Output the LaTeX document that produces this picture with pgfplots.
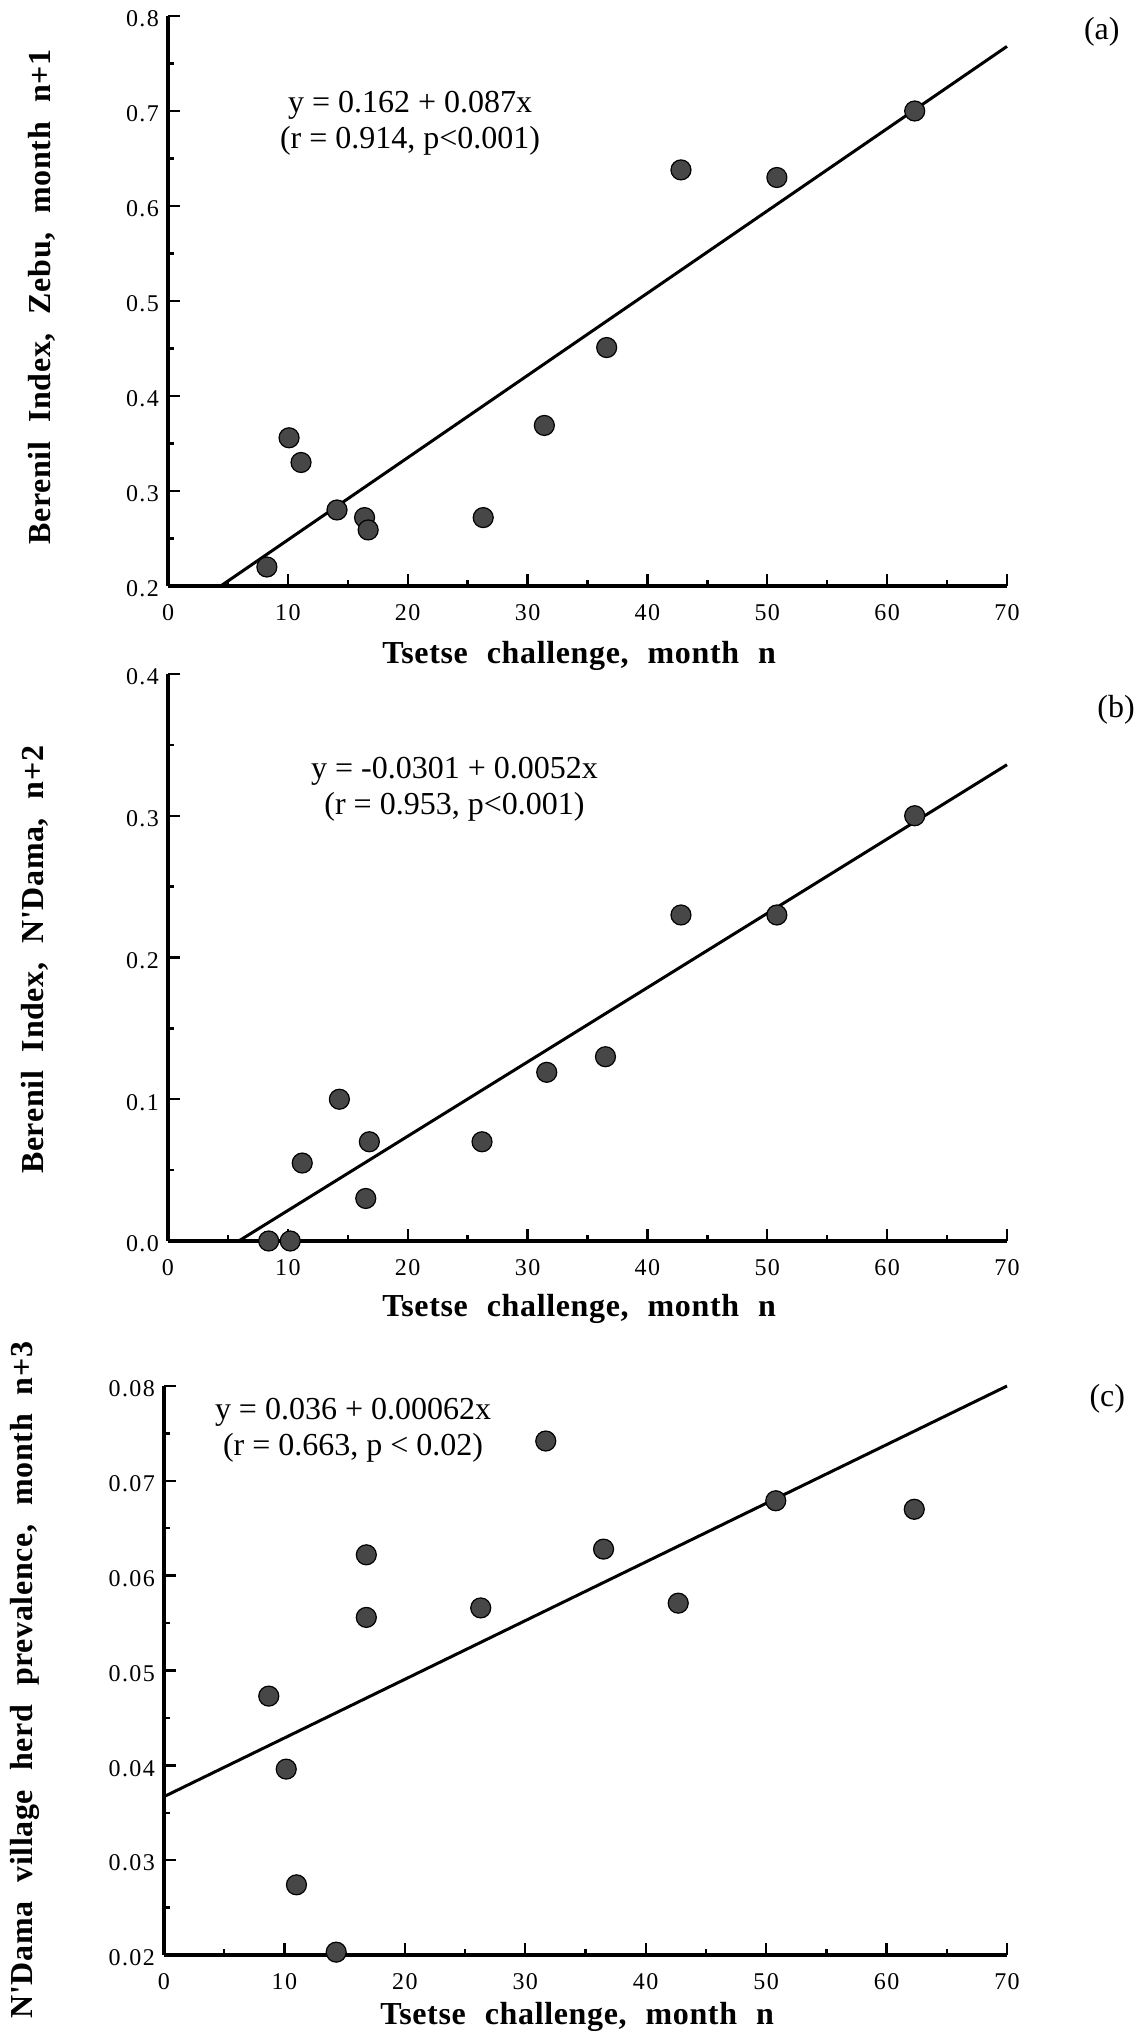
\documentclass[border=0pt]{standalone}
\usepackage{fontspec}
\setmainfont{Liberation Serif}
\newfontfamily\tickfont[LetterSpace=6]{Liberation Serif}
\newfontfamily\labfont[LetterSpace=2,WordSpace=2.2]{Liberation Serif}
\usepackage{pgfplots}
\pgfplotsset{compat=1.18}
\pgfplotsset{
  panel/.style={
    scale only axis,
    axis x line=bottom, axis y line=left,
    axis line style={-, line width=1.6pt},
    tick align=inside,
    major tick length=6pt, minor tick length=3pt,
    every tick/.style={black, line width=1.2pt},
    xmin=0, xmax=70, xtick={0,10,...,70}, minor x tick num=1,
    minor y tick num=1,
    scaled y ticks=false,
    clip=false,
    xticklabel style={font=\tickfont\fontsize{12}{14}\selectfont, yshift=-5.5pt},
    yticklabel style={font=\tickfont\fontsize{12}{14}\selectfont, xshift=-1pt, yshift=-1.5pt},
    /pgf/number format/assume math mode=true,
    label style={font=\labfont\bfseries\fontsize{16}{19}\selectfont},
    xlabel={Tsetse challenge, month n},
  },
  dots/.style={only marks, mark=*, mark size=5pt, mark options={fill=black!72, draw=black, line width=0.6pt}},
  fit/.style={black, line width=1.5pt, no marks},
}
\begin{document}
\begin{tikzpicture}
\useasboundingbox (0,0) rectangle (568pt,1015.5pt);
% (a)
\begin{axis}[panel,
  at={(84pt,722.5pt)}, anchor=south west,
  width=419.5pt, height=285pt,
  ymin=0.2, ymax=0.8, ytick={0.2,0.3,...,0.8},
  yticklabels={0.2,0.3,0.4,0.5,0.6,0.7,0.8},
  xlabel style={at={(axis description cs:0.49,-0.1368)}, anchor=base},
  ylabel={Berenil Index, Zebu, month n+1},
  ylabel style={at={(axis description cs:-0.1502,0.507)}, anchor=center},
]
\addplot[fit] coordinates {(4.4,0.2) (70,0.768)};
\addplot[dots] coordinates {(8.25,0.220) (10.1,0.356) (11.1,0.330) (14.1,0.280) (16.4,0.272) (16.7,0.259) (26.3,0.272) (31.4,0.369) (36.6,0.451) (42.8,0.638) (50.8,0.630) (62.3,0.700)};
\node[align=center, font=\fontsize{16}{18}\selectfont] at (axis cs:20.2,0.687) {y = 0.162 + 0.087x\\(r = 0.914, p<0.001)};
\node[font=\fontsize{16}{18}\selectfont] at (axis description cs:1.113,0.972) {(a)};
\end{axis}
% (b)
\begin{axis}[panel,
  at={(84pt,395pt)}, anchor=south west,
  width=419.5pt, height=283.5pt,
  ymin=0, ymax=0.4, ytick={0,0.1,...,0.4},
  yticklabels={0.0,0.1,0.2,0.3,0.4},
  xlabel style={at={(axis description cs:0.49,-0.1323)}, anchor=base},
  ylabel={Berenil Index, N'Dama, n+2},
  ylabel style={at={(axis description cs:-0.1585,0.496)}, anchor=center},
]
\addplot[fit] coordinates {(5.9,0) (70,0.336)};
\addplot[dots] coordinates {(8.4,0) (10.2,0) (11.2,0.055) (14.3,0.100) (16.5,0.030) (16.8,0.070) (26.2,0.070) (31.6,0.119) (36.5,0.130) (42.8,0.230) (50.8,0.230) (62.3,0.300)};
\node[align=center, font=\fontsize{16}{18}\selectfont] at (axis cs:23.9,0.319) {y = -0.0301 + 0.0052x\\(r = 0.953, p<0.001)};
\node[font=\fontsize{16}{18}\selectfont] at (axis description cs:1.130,0.9365) {(b)};
\end{axis}
% (c)
\begin{axis}[panel,
  at={(82pt,38pt)}, anchor=south west,
  width=421.5pt, height=284.5pt,
  ymin=0.02, ymax=0.08, ytick={0.02,0.03,...,0.08},
  yticklabels={0.02,0.03,0.04,0.05,0.06,0.07,0.08},
  xlabel style={at={(axis description cs:0.49,-0.123)}, anchor=base},
  ylabel={N'Dama village herd prevalence, month n+3},
  ylabel style={at={(axis description cs:-0.1649,0.483)}, anchor=center},
]
\addplot[fit] coordinates {(0,0.0367) (70,0.080)};
\addplot[dots] coordinates {(8.7,0.0473) (10.15,0.0396) (11.0,0.0274) (14.3,0.0203) (16.8,0.0622) (16.8,0.0556) (26.3,0.0566) (31.7,0.0742) (36.5,0.0628) (42.7,0.0571) (50.8,0.0679) (62.3,0.0670)};
\node[align=center, font=\fontsize{16}{18}\selectfont] at (axis cs:15.7,0.0753) {y = 0.036 + 0.00062x\\(r = 0.663, p < 0.02)};
\node[font=\fontsize{16}{18}\selectfont] at (axis description cs:1.119,0.977) {(c)};
\end{axis}
\end{tikzpicture}
\end{document}
